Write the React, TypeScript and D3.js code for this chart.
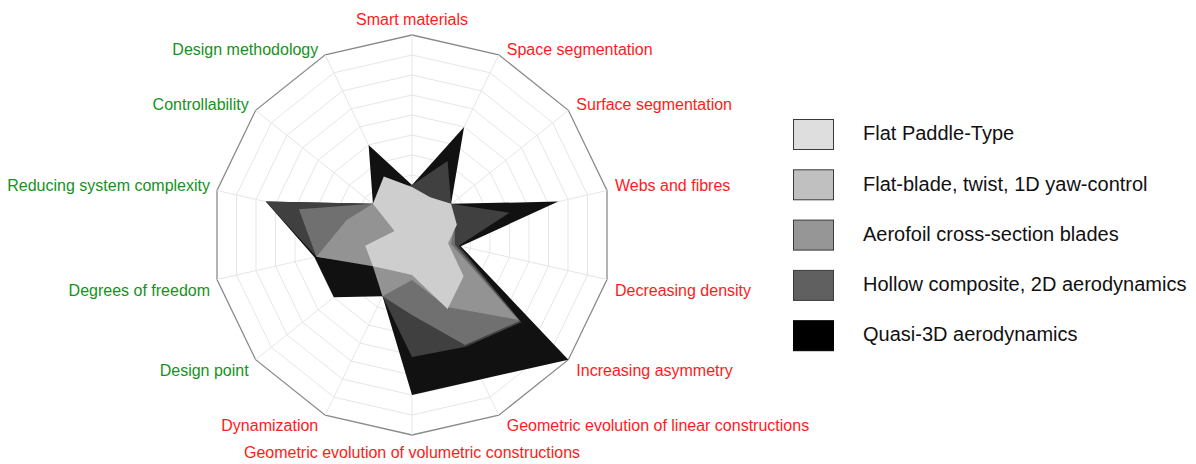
import React from 'react';
import * as d3 from 'd3';

// axis names, clockwise from the top
const axes = [
  'Smart materials',
  'Space segmentation',
  'Surface segmentation',
  'Webs and fibres',
  'Decreasing density',
  'Increasing asymmetry',
  'Geometric evolution of linear constructions',
  'Geometric evolution of volumetric constructions',
  'Dynamization',
  'Design point',
  'Degrees of freedom',
  'Reducing system complexity',
  'Controllability',
  'Design methodology',
];

// axes printed in green (the rest are red)
const designAxes = [
  'Design point',
  'Degrees of freedom',
  'Reducing system complexity',
  'Controllability',
  'Design methodology',
];

const seriesNames = [
  'Flat Paddle-Type',
  'Flat-blade, twist, 1D yaw-control',
  'Aerofoil cross-section blades',
  'Hollow composite, 2D aerodynamics',
  'Quasi-3D aerodynamics',
];

const flatPaddle = [2.4, 2.1, 2.5, 2.3, 1.85, 3.3, 4.1, 2.0, 2.0, 2.5, 2.4, 0.9, 2.5, 3.25];
const flatBlade = [2.3, 2.0, 2.4, 2.2, 2.0, 6.8, 4.0, 2.25, 3.4, 2.5, 4.9, 3.35, 2.5, 2.5];
const aerofoil = [2.3, 2.0, 2.4, 2.2, 2.2, 6.9, 6.1, 4.0, 3.4, 2.4, 4.9, 5.8, 2.5, 2.5];
const hollow = [2.5, 4.1, 2.5, 5.0, 2.4, 7.0, 6.2, 6.1, 3.4, 2.4, 4.9, 7.5, 2.5, 2.5];
const quasi3d = [2.5, 6.0, 2.5, 7.5, 2.5, 10, 8, 8, 3.4, 5, 5, 7.5, 2.5, 5];

const maxValue = 10;
const ringCount = 10;

const App = () => {
  const cx = 412;
  const cy = 235;
  const radius = 200;

  const r = d3.scaleLinear().domain([0, maxValue]).range([0, radius]);
  const angle = d3
    .scalePoint<number>()
    .domain(d3.range(axes.length + 1))
    .range([0, 2 * Math.PI]);

  const radial = d3
    .lineRadial<number>()
    .angle((_, i) => angle(i) as number)
    .radius((d) => r(d))
    .curve(d3.curveLinearClosed);

  const allSeries = [flatPaddle, flatBlade, aerofoil, hollow, quasi3d];
  const fills = ['#cecece', '#939393', '#707070', '#404040', '#111111'];
  const legendFills = ['#dedede', '#c0c0c0', '#969696', '#606060', '#000000'];

  const rings = d3.range(1, ringCount + 1).map((k) => (maxValue * k) / ringCount);

  const point = (i: number, v: number) => {
    const a = angle(i) as number;
    return [Math.sin(a) * r(v), -Math.cos(a) * r(v)];
  };

  // legend layout
  const legendX = 793;
  const legendY = 119;
  const legendStep = 50.3;

  return (
    <svg
      width={1196}
      height={464}
      style={{ position: 'absolute', left: 0, top: 0, background: '#fff' }}
    >
      <g transform={`translate(${cx},${cy})`}>
        {/* grid rings */}
        {rings.map((v, k) => (
          <path
            key={`ring-${k}`}
            d={radial(axes.map(() => v)) as string}
            fill="none"
            stroke={k === rings.length - 1 ? '#8a8a8a' : '#e6e6e6'}
            strokeWidth={k === rings.length - 1 ? 1.3 : 1}
          />
        ))}
        {/* spokes */}
        {axes.map((_, i) => {
          const [x, y] = point(i, maxValue);
          return (
            <line key={`spoke-${i}`} x1={0} y1={0} x2={x} y2={y} stroke="#e6e6e6" strokeWidth={1} />
          );
        })}

        {/* series, darkest at the back */}
        {allSeries
          .map((s, i) => ({ s, i }))
          .reverse()
          .map(({ s, i }) => (
            <path key={`series-${i}`} d={radial(s) as string} fill={fills[i]} stroke="none" />
          ))}

        {/* axis labels */}
        {axes.map((name, i) => {
          const [x, y] = point(i, maxValue);
          const a = angle(i) as number;
          const dx = Math.sin(a);
          const dy = -Math.cos(a);
          let anchor = 'middle';
          let tx = x;
          if (dx > 0.01) {
            anchor = 'start';
            tx = x + 8;
          } else if (dx < -0.01) {
            anchor = 'end';
            tx = x - 7;
          }
          let ty = y;
          if (dy < -0.99) ty = y - 10;
          else if (dy > 0.99) ty = y + 23;
          else if (dy > 0) ty = y + 16;
          return (
            <text
              key={`label-${i}`}
              x={tx}
              y={ty}
              textAnchor={anchor}
              fontFamily="Liberation Sans, Arial, sans-serif"
              fontSize={16}
              fill={designAxes.includes(name) ? '#15921a' : '#ff1a1a'}
            >
              {name}
            </text>
          );
        })}
      </g>

      {/* legend */}
      {seriesNames.map((name, i) => (
        <g key={`legend-${i}`} transform={`translate(${legendX},${legendY + i * legendStep})`}>
          <rect
            x={0.5}
            y={0.5}
            width={40}
            height={30}
            fill={legendFills[i]}
            stroke={i === 4 ? '#000' : '#3a3a3a'}
            strokeWidth={1}
          />
          <text
            x={70}
            y={16}
            dominantBaseline="middle"
            fontFamily="Liberation Sans, Arial, sans-serif"
            fontSize={20}
            fill="#111"
          >
            {name}
          </text>
        </g>
      ))}
    </svg>
  );
};

export default App;
